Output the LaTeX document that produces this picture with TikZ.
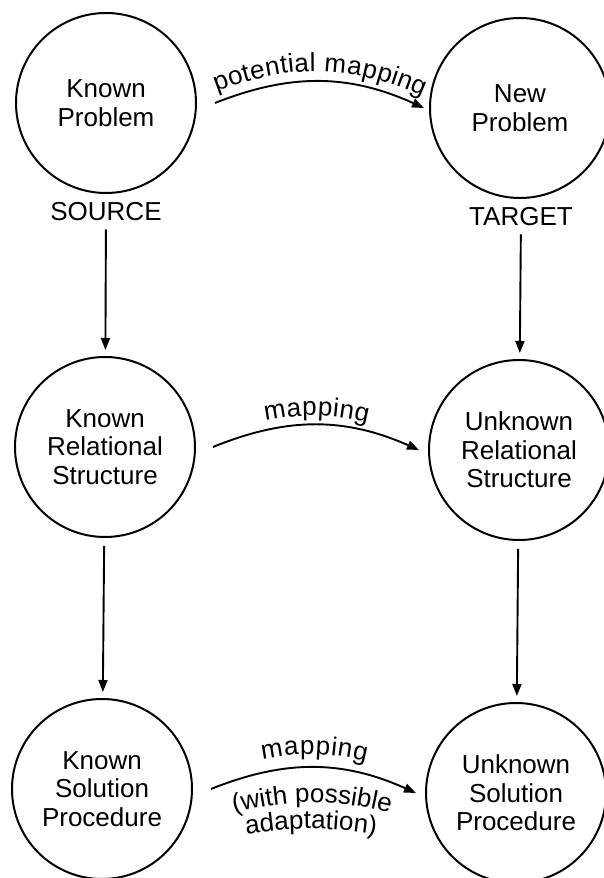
\documentclass[tikz,border=0pt]{standalone}
\usepackage{fontspec}
\setmainfont{Liberation Sans}
\usetikzlibrary{arrows.meta,decorations.text}
\newcommand{\diagfont}{\fontsize{26}{28.5}\selectfont}

\begin{document}
\begin{tikzpicture}[x=1pt,y=1pt,
	state/.style={circle,draw,line width=2pt,minimum size=180pt,inner sep=0pt,align=center,font=\diagfont},
	role/.style={inner sep=0pt,font=\diagfont},
	flow/.style={line width=1.9pt,-{Triangle[length=12pt,width=9pt]},shorten <=8pt,shorten >=6pt},
	onarc/.style 2 args={postaction={decorate,decoration={text along path,text align=center,raise=#1,text={|\diagfont|#2}}}}]
				\clip (0,0) rectangle (604,878);
				
				% source column, then target column
				\foreach \n/\x/\y/\t in
				{kp/106/775/{Known\\Problem}, krs/105/431/{Known\\Relational\\Structure}, ksp/102/89/{Known\\Solution\\Procedure},
				 np/520/770/{New\\Problem}, urs/519/428/{Unknown\\Relational\\Structure}, usp/516/85/{Unknown\\Solution\\Procedure}}{
					\node[state] (\n) at (\x,\y) {\t};
				}
				
				\node[role] (src) at (106,666) {SOURCE};
				\node[role] (tgt) at (521,661) {TARGET};
				
				% down the columns
				\foreach \a/\b in
				{src/krs, tgt/urs, krs/ksp, urs/usp}{
					\draw[flow] (\a) -- (\b);
				}
				
				% mappings across
				\draw[flow,shorten <=0pt,shorten >=0pt,onarc={10pt}{potential mapping}]
					([xshift=18pt]kp.east) to[bend left=23] ([xshift=-5pt]np.west);
				\draw[flow,shorten <=0pt,shorten >=0pt,onarc={9pt}{mapping}]
					([xshift=17pt]krs.east) to[bend left=23] ([xshift=-9pt]urs.west);
				\draw[flow,shorten <=0pt,shorten >=0pt,onarc={13pt}{mapping}]
					([xshift=18pt]ksp.east) to[bend left=23] ([xshift=-9pt]usp.west);
				
				% second label under the last one
				\path[onarc={0pt}{(with possible}] (230,64) to[bend left=14] (394,64);
				\path[onarc={0pt}{adaptation)}] (243,43) to[bend left=9] (379,43);
			\end{tikzpicture}
\end{document}
